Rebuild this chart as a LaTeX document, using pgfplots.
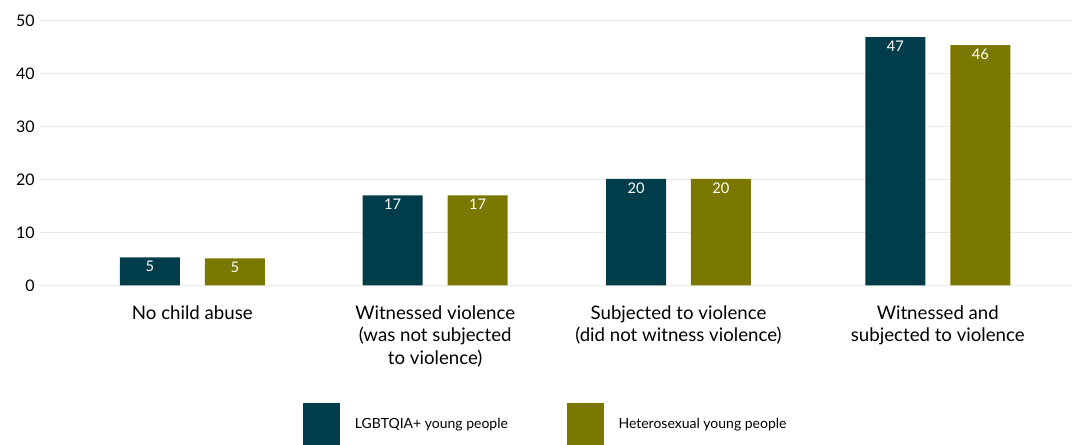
\documentclass[border=0pt]{standalone}
\usepackage{pgfplots}
\pgfplotsset{compat=1.18}
\usepackage{fontspec}
\setmainfont{Lato}
\definecolor{lgbt}{RGB}{0,61,75}
\definecolor{hetero}{RGB}{123,120,0}
\definecolor{gridgray}{RGB}{235,235,235}
\begin{document}
\begin{tikzpicture}
\begin{axis}[
    scale only axis,
    width=774.75pt, height=198.75pt,
    xmin=40, xmax=1073,
    ymin=0, ymax=50,
    enlargelimits=false,
    clip=false,
    ybar=18.75pt,
    bar width=45pt,
    axis line style={draw=none},
    major tick length=0pt,
    ymajorgrids=true,
    grid style={gridgray, line width=1.2pt},
    ytick={0,10,20,30,40,50},
    yticklabel style={font=\fontsize{12}{14}\selectfont, inner sep=0pt, xshift=-3.75pt},
    /pgf/number format/assume math mode=true,
    xtick={192.5,435.5,679,938.5},
    xticklabels={No child abuse,
                 {Witnessed violence\\(was not subjected\\to violence)},
                 {Subjected to violence\\(did not witness violence)},
                 {Witnessed and\\subjected to violence}},
    xticklabel style={font=\fontsize{14}{16.9}\selectfont, align=center, anchor=north, inner sep=0pt, yshift=-15pt},
    point meta=explicit symbolic,
    nodes near coords,
    every node near coord/.append style={font=\fontsize{11}{13}\selectfont, text=white, anchor=north, inner sep=0pt, yshift=-2.5pt},
    legend columns=2,
    legend cell align=left,
    legend image code/.code={\fill[#1] (0pt,-15.75pt) rectangle (27.75pt,15.75pt);},
    legend style={
        at={(0.2546,-0.4426)}, anchor=north west,
        draw=none, fill=none, inner sep=0pt,
        font=\fontsize{10.5}{12}\selectfont,
        nodes={inner sep=0pt},
        /tikz/every odd column/.append style={column sep=11.25pt},
        /tikz/every even column/.append style={column sep=44pt},
    },
]
\addplot[fill=lgbt, draw=none] coordinates {
    (192.5,5.3) [5]
    (435.5,17.0) [17]
    (679,20.1) [20]
    (938.5,46.9) [47]
};
\addplot[fill=hetero, draw=none] coordinates {
    (192.5,5.1) [5]
    (435.5,17.0) [17]
    (679,20.1) [20]
    (938.5,45.4) [46]
};
\legend{LGBTQIA+ young people, Heterosexual young people}
\end{axis}
\path (current axis.south west) ++(-30pt,-119.5pt);
\path (current axis.north east) ++(0pt,15.5pt);
\end{tikzpicture}
\end{document}
